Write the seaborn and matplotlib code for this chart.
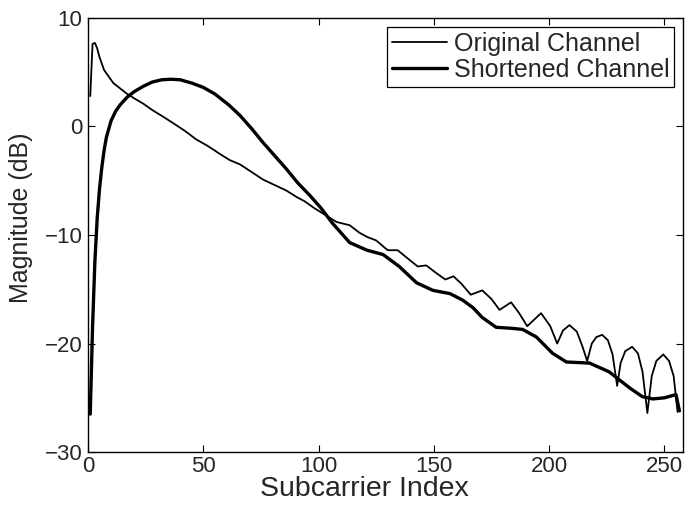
import matplotlib
matplotlib.use("Agg")
import matplotlib.pyplot as plt
import seaborn as sns
import pandas as pd

# ---- data ----
orig_x = [1, 2, 3, 4, 5, 6, 7, 9, 11, 14, 17, 20, 24, 28, 32.6, 37, 42, 47, 52, 57,
          61.5, 66, 71, 76, 81, 86, 90.5, 94, 98, 101, 104, 107.8, 113.5, 117.8, 121.3,
          125, 130, 134.3, 139.5, 143, 146.7, 151, 155, 158.5, 162, 166, 171, 175,
          178.5, 183.5, 187, 190.5, 196.5, 200.5, 203.5, 206, 208.8, 212, 214.5, 216.5,
          218.5, 220.5, 223, 225.5, 227.5, 229.5, 231, 233, 236, 238.5, 240.5, 242.6,
          244.5, 246.5, 249.5, 252, 254, 255.7]
orig_y = [2.8, 7.6, 7.7, 7.2, 6.4, 5.8, 5.2, 4.6, 4.0, 3.5, 3.0, 2.6, 2.1, 1.5, 0.9, 0.3,
          -0.4, -1.2, -1.8, -2.5, -3.1, -3.5, -4.2, -4.9, -5.4, -5.9, -6.5, -6.9, -7.5,
          -7.9, -8.3, -8.8, -9.1, -9.8, -10.2, -10.5, -11.4, -11.4, -12.3, -12.9, -12.8,
          -13.5, -14.1, -13.8, -14.5, -15.5, -15.1, -15.9, -16.9, -16.2, -17.2, -18.4,
          -17.2, -18.4, -20.0, -18.8, -18.3, -18.9, -20.3, -21.6, -20.0, -19.4, -19.2,
          -19.7, -21.0, -23.9, -21.8, -20.7, -20.3, -20.9, -22.6, -26.4, -23.0, -21.6,
          -21.0, -21.6, -23.0, -26.3]

short_x = [1, 2, 3, 4, 5, 6, 7, 8, 10, 12, 14, 17, 20, 24, 28, 32, 36, 40, 45, 50, 55,
           61, 66, 71, 76, 81, 86, 91, 96, 101, 106, 113.5, 121, 128, 135, 142.5, 149.6,
           157, 162.5, 167, 171, 177, 184, 188.5, 194.5, 201.5, 207.5, 217.5, 226, 235,
           240.5, 245, 250, 255, 256.5]
short_y = [-26.5, -18.5, -12.5, -8.5, -5.8, -3.8, -2.2, -1.0, 0.5, 1.4, 2.0, 2.7, 3.2,
           3.7, 4.1, 4.3, 4.35, 4.3, 4.0, 3.6, 3.0, 2.0, 1.0, -0.2, -1.5, -2.7, -3.9,
           -5.2, -6.3, -7.5, -8.9, -10.7, -11.4, -11.8, -12.9, -14.4, -15.1, -15.4, -16.0,
           -16.7, -17.6, -18.5, -18.6, -18.7, -19.4, -20.9, -21.7, -21.8, -22.6, -24.1,
           -24.9, -25.1, -25.0, -24.7, -26.2]

x_ticks = [0, 50, 100, 150, 200, 250]
y_ticks = [-30, -20, -10, 0, 10]
labels = ["Original Channel", "Shortened Channel"]

# ---- plotting ----
sns.set_style("ticks")
plt.rcParams["font.family"] = ["Liberation Sans", "DejaVu Sans"]
plt.rcParams["xtick.direction"] = "in"
plt.rcParams["ytick.direction"] = "in"

fig = plt.figure(figsize=(6.87, 5.12), dpi=100)
ax = fig.add_axes([0.128, 0.117, 0.866, 0.848])

df_o = pd.DataFrame({"x": orig_x, "y": orig_y})
df_s = pd.DataFrame({"x": short_x, "y": short_y})
sns.lineplot(data=df_o, x="x", y="y", ax=ax, color="black", lw=1.3, label=labels[0],
             sort=False, estimator=None)
sns.lineplot(data=df_s, x="x", y="y", ax=ax, color="black", lw=2.4, label=labels[1],
             sort=False, estimator=None)

ax.set_xlim(0, 258)
ax.set_ylim(-30, 10)
ax.set_xticks(x_ticks)
ax.set_yticks(y_ticks)
ax.tick_params(axis="both", which="both", top=True, right=True, length=5,
               width=0.8, labelsize=16, color="black")
ax.tick_params(axis="x", pad=3)
ax.tick_params(axis="y", pad=4)
for s in ax.spines.values():
    s.set_visible(True)
    s.set_linewidth(1.0)
    s.set_color("black")
ax.set_xlabel("Subcarrier Index", fontsize=20.5)
ax.set_ylabel("Magnitude (dB)", fontsize=18)
ax.xaxis.set_label_coords(0.464, -0.056)
ax.yaxis.set_label_coords(-0.093, 0.539)

leg = ax.legend(loc="upper right", fontsize=18, frameon=True, fancybox=False,
                edgecolor="black", framealpha=1, handlelength=2.2, handletextpad=0.25,
                borderpad=0.2, labelspacing=0.1, borderaxespad=0.35)
leg.get_frame().set_linewidth(0.9)

fig.savefig("out.png", dpi=100)
